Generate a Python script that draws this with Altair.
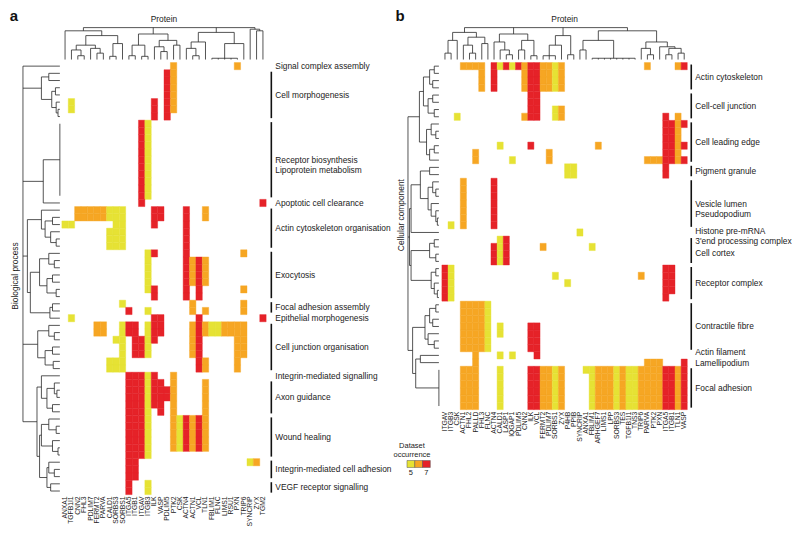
import altair as alt
import pandas as pd

YELLOW, ORANGE, RED = "#e6e234", "#f6a623", "#e52228"
LEVELS = ["5", "6", "7"]
FONT = "Liberation Sans"

# ---------------- panel a : biological process ----------------
proteins_a = ["ANXA1", "TGFB1I1", "CNN2", "FHL3", "PDLIM7", "FERMT2", "PARVA", "CALD1",
              "SORBS3", "SORBS1", "ITGA5", "ITGB1", "ITGAV", "ITGB3", "ILK", "VASP",
              "PDLIM5", "PTK2", "CSK", "ACTN4", "ACTN1", "VCL", "TLN1", "FBLIM1", "FLNC",
              "LIMS1", "RSU1", "PXN", "TRIP6", "SYNCRIP", "ZYX", "TGM2"]

# one string per GO-term row, one character per protein ('.' = absent, 5/6/7 = dataset occurrence)
rows_a = [
    ".................6.........6....",
    "................76..............",
    "................76..............",
    "................76..............",
    "................76..............",
    ".5............7.76..............",
    ".5............7.76..............",
    "..............7.7...............",
    "............75..................",
    "............75..................",
    "............75..................",
    "............75..................",
    "............75..................",
    "............75..................",
    "............75..................",
    "............75..................",
    "............75..................",
    "............75..................",
    "............75..................",
    "............7..................7",
    "..66666555....77...7..6.........",
    "..66666555....77...7..6.........",
    "55......55....7....7............",
    ".......555.........7............",
    ".......555.........7............",
    ".......555.........7............",
    ".............57....7........6...",
    ".............5.....7676.........",
    ".............5.....7676.........",
    ".............5.....7676.........",
    ".............5.....7676.........",
    ".............57....7.7......6...",
    "..............7....7.7..........",
    ".........5..........6.......6...",
    "..........7..5......6.6.....6...",
    ".5............77.....7.........7",
    ".....66..577.577....676556666...",
    ".....66..577.577....676556666...",
    "........55.7757.....67.....66...",
    ".........5.775......67.....66...",
    ".........5.775......67.....66...",
    ".......555...........76....6....",
    ".......555...........76....6....",
    "..........77757..6..............",
    "..........777577.6....6.........",
    "..........77757776....6.........",
    "..........77757776....6.........",
    "..........777577.6....6.........",
    "..........7775.7.6....6.........",
    "..........7775...657676.........",
    "..........7775...657676.........",
    "..........7775...657676.........",
    "..........7775...657676.........",
    "..........7775...657676.........",
    "..........7775..................",
    "..........77.................56.",
    "..........77....................",
    "..........77....................",
    "..........7..5..................",
    "..........7..5..................",
]

terms_a = ["Signal complex assembly", "Cell morphogenesis",
           "Receptor biosynthesis\nLipoprotein metabolism", "Apoptotic cell clearance",
           "Actin cytoskeleton organisation", "Exocytosis", "Focal adhesion assembly",
           "Epithelial morphogenesis", "Cell junction organisation",
           "Integrin-mediated signalling", "Axon guidance", "Wound healing",
           "Integrin-mediated cell adhesion", "VEGF receptor signalling"]
term_rows_a = [1, 7, 11, 1, 6, 7, 2, 1, 7, 1, 5, 6, 3, 2]
term_dy_a = [0, 0, 0, 0, 0, 0, 0, 0, 0, 0, 0, 0, 0, 0]

# dendrograms: [height, child, child, ...]; integers are leaf positions
col_tree_a = [1.0,
              [0.9, 0, [0.75, [0.45, [0.3, 1, [0.12, 2, 3]], [0.35, 4, [0.2, 5, 6]]],
                        [0.5, [0.1, 7, 8], 9]]],
              [0.8, [0.45, [0.12, 10, 11], [0.1, 12, 13]],
                    [0.6, [0.4, 14, [0.25, 15, 16]], [0.45, 17, 18]]],
              [0.85, [0.55, [0.35, 19, [0.12, 20, 21]], 22],
                     [0.5, [0.04, 23, 24, 25, 26, 27], 28]],
              [0.95, 29, [0.9, 30, 31]]]
row_tree_a = [1.0, 0,
              [0.5, [0.3, 1, 2], [0.22, [0.12, 3, 4], [0.1, 5, [0.05, 6, 7]]]],
              [0.45, [0.0, 8, 9, 10, 11, 12, 13, 14, 15, 16, 17, 18], 19],
              [0.88, [0.5, 20, [0.4, [0.2, 21, 22], [0.25, 23, [0.1, 24, 25]]]],
                     [0.8, [0.55, [0.3, 26, [0.15, 27, 28]], [0.35, [0.2, 29, 30], [0.1, 31, 32]]],
                           [0.27, [0.2, 33, 34], 35]]],
              [0.6, [0.3, 36, [0.15, 37, 38]], [0.4, [0.2, 39, 40], [0.18, 41, 42]]],
              [0.62, [0.5, 43, [0.35, [0.15, 44, [0.08, 45, 46]], [0.2, 47, 48]]],
                     [0.55, [0.5, [0.3, 49, [0.1, 50, 51]], [0.2, 52, [0.05, 53, 54]]],
                            [0.35, [0.3, 55, [0.15, 56, 57]], [0.25, 58, 59]]]]]

# ---------------- panel b : cellular component ----------------
proteins_b = ["ITGAV", "ITGB3", "CSK", "ACTN1", "FHL2", "PALLD", "FHL3", "FLNC", "ACTN4",
              "CALD1", "LASP1", "IQGAP1", "PDLIM5", "CNN2", "ILK", "VCL", "FERMT2", "PDLIM7",
              "SORBS1", "ZYX", "P4HB", "PPIB", "SYNCRIP", "ANXA1", "FBLIM1", "ARHGEF7",
              "LIMS1", "LPP", "SORBS3", "TES", "TGFB1I1", "TNS3", "TRIP6", "PARVA", "PTK2",
              "PXN", "ITGA5", "ITGB1", "TLN1", "VASP"]

rows_b = [
    "...6666.757576776656.............6....67",
    "......6.7....6776656....................",
    "......6.7....6776656....................",
    "......6.7....6776656....................",
    "..............77........................",
    "..............77........................",
    "..............77..56....................",
    "..5..........677..56................7.6.",
    "....................................7767",
    "....................................776.",
    "....................................776.",
    ".........5....7..........6..........7767",
    ".....6...........6..................776.",
    ".....6.....5.....6...............6667767",
    "....................55..............7...",
    "....................55..............7...",
    "...6....7...............................",
    "...6....7...............................",
    "...6....7...............................",
    "...6....7...............................",
    "...6....7...............................",
    "...6....7...............................",
    ".5.6....7...............................",
    "......................5.................",
    ".........57.............................",
    "........757.....6.......5...............",
    "........757.............................",
    "........757.............................",
    "75..................................77..",
    "75................5.............6...77..",
    "75..................5...............77..",
    "75..................................77..",
    "75..................................7...",
    "...66665................................",
    "...66665................................",
    "...66665................................",
    "...66665.5....77........................",
    "...66665.5....77........................",
    "...66665......77........................",
    "...66665......77........................",
    ".....6...5.5...7........................",
    ".....6...........................666...7",
    "...666...5....776656...55666565566667767",
    "...666...5....776656....5666565566667767",
    "...666...5....776656....5666565566667767",
    "...666...5....776656....5666565566667767",
    "...666...5....776656....5666565566667767",
    "...666...5....776656....5666565566667767",
]

terms_b = ["Actin cytoskeleton", "Cell-cell junction", "Cell leading edge", "Pigment granule",
           "Vesicle lumen\nPseudopodium", "Histone pre-mRNA\n3'end processing complex",
           "Cell cortex", "Receptor complex", "Contractile fibre", "Actin filament",
           "Lamellipodium", "Focal adhesion"]
term_rows_b = [4, 4, 6, 2, 7, 1, 4, 5, 7, 1, 1, 6]
term_dy_b = [0, 0, 0, 0, 0, -1, 2, 0, 0, -3, 0.5, 0]

col_tree_b = [1.0,
              [0.85, [0.6, [0.2, 0, 1], 2], [0.7, [0.45, 3, [0.2, 4, 5]], [0.5, 6, 7]]],
              [0.8, [0.55, 8, [0.3, 9, [0.15, 10, 11]]], [0.6, [0.3, 12, 13], [0.12, 14, 15]]],
              [0.75, [0.45, [0.12, 16, 17, 18], 19], [0.15, 20, 21]],
              [0.9, [0.6, [0.3, 22, 23], [0.04, 24, 25, 26, 27, 28, 29, 30, 31]],
                    [0.55, [0.35, 32, [0.15, 33, 34]],
                           [0.4, 35, [0.35, [0.15, 36, 37], [0.2, 38, 39]]]]]]
row_tree_b = [1.0,
              [0.63, [0.5, [0.3, [0.15, 0, 1], [0.2, 2, 3]], [0.35, [0.2, 4, 5], [0.15, 6, 7]]],
                     [0.4, [0.25, 8, [0.1, 9, 10]], [0.3, [0.15, 11, 12], 13]]],
              [0.95, [0.9, [0.6, [0.3, 14, 15], [0.35, [0.2, 16, [0.1, 17, 18]], [0.25, 19, [0.1, 20, [0.05, 21, 22]]]]], 23],
                     [0.9, [0.3, [0.15, 24, 25], [0.1, 26, 27]], [0.25, [0.1, 28, 29], [0.15, 30, [0.05, 31, 32]]]]],
              [0.85, [0.45, [0.3, [0.1, 33, 34], [0.2, 35, 36]], [0.35, 37, [0.15, 38, 39]]],
                     [0.75, [0.6, 40, 41], [0.0, 42, 43, 44, 45, 46, 47]]]]

legend_levels = ["5", "6", "7"]
legend_ticks = ["5", "", "7"]


# ---------------- helpers ----------------
def heat_df(rows, names):
    recs = []
    for r, s in enumerate(rows):
        s = s.ljust(len(names), ".")[:len(names)]
        for c, ch in enumerate(s):
            if ch != ".":
                recs.append(dict(x=c, x2=c + 1, y=r, y2=r + 1, v=ch, protein=names[c]))
    return pd.DataFrame(recs)


def tree_df(tree, orient, gap, length):
    segs = []

    def walk(node):
        if isinstance(node, int):
            return node + 0.5, 0.0
        h = node[0]
        kids = [walk(k) for k in node[1:]]
        for p, hh in kids:
            segs.append((p, hh, p, h))
        ps = [p for p, _ in kids]
        segs.append((min(ps), h, max(ps), h))
        return sum(ps) / len(ps), h

    walk(tree)
    recs = []
    for p1, h1, p2, h2 in segs:
        d1, d2 = -(gap + h1 * length), -(gap + h2 * length)
        if orient == "top":
            recs.append(dict(x=p1, x2=p2, y=d1, y2=d2))
        else:
            recs.append(dict(x=d1, x2=d2, y=p1, y2=p2))
    return pd.DataFrame(recs)


def panel(names, rows, terms, term_rows, term_dy, col_tree, row_tree, g, letter,
          side_title, side_y, legend=False):
    ux = lambda px: (px - g["x0"]) / g["cw"]
    uy = lambda py: (py - g["y0"]) / g["rh"]
    xs = alt.Scale(domain=[ux(g["left"]), ux(g["right"])], nice=False, zero=False)
    ys = alt.Scale(domain=[uy(g["top"]), uy(g["bottom"])], nice=False, zero=False, reverse=True)
    X = lambda f: alt.X(f, type="quantitative", scale=xs, axis=None)
    Y = lambda f: alt.Y(f, type="quantitative", scale=ys, axis=None)
    cscale = alt.Scale(domain=LEVELS, range=[YELLOW, ORANGE, RED])
    ncol, nrow = len(names), len(rows)

    heat = alt.Chart(heat_df(rows, names)).mark_rect(strokeWidth=0.4).encode(
        x=X("x"), x2="x2", y=Y("y"), y2="y2",
        color=alt.Color("v:N", scale=cscale, legend=None),
        stroke=alt.Stroke("v:N", scale=cscale, legend=None))

    top = tree_df(col_tree, "top", (g["y0"] - g["cleaf"]) / g["rh"],
                  (g["cleaf"] - g["croot"]) / g["rh"])
    left = tree_df(row_tree, "left", (g["x0"] - g["rleaf"]) / g["cw"],
                   (g["rleaf"] - g["rroot"]) / g["cw"])
    dend = alt.Chart(pd.concat([top, left])).mark_rule(color="#2a2a2a", strokeWidth=0.8).encode(
        x=X("x"), x2="x2", y=Y("y"), y2="y2")

    labs = pd.DataFrame(dict(x=[i + 0.5 for i in range(ncol)], y=[uy(g["clab"])] * ncol, t=names))
    collab = alt.Chart(labs).mark_text(angle=270, align="right", baseline="middle",
                                       fontSize=6.8, font=FONT, color="#222").encode(
        x=X("x"), y=Y("y"), text="t")

    starts, s = [], 0
    for n in term_rows:
        starts.append(s)
        s += n
    tdf = pd.DataFrame(dict(t=terms,
                            y=[st + n / 2 + dy / g["rh"] for st, n, dy in zip(starts, term_rows, term_dy)],
                            x=[ux(g["tlab"])] * len(terms)))
    termlab = alt.Chart(tdf).mark_text(align="left", baseline="middle", fontSize=8.4,
                                       font=FONT, lineBreak="\n", lineHeight=10,
                                       color="#222").encode(x=X("x"), y=Y("y"), text="t")
    inset = 2 / g["rh"]
    bdf = pd.DataFrame([dict(x=ux(g["brk"]), y=st + inset, y2=st + n - inset)
                        for st, n in zip(starts, term_rows) if n > 1])
    brk = alt.Chart(bdf).mark_rule(color="#111", strokeWidth=1.6).encode(
        x=X("x"), y=Y("y"), y2="y2")

    ttl = pd.DataFrame(dict(x=[ncol / 2], y=[uy(18)], t=["Protein"]))
    prot = alt.Chart(ttl).mark_text(fontSize=8.4, font=FONT, baseline="middle", color="#222").encode(
        x=X("x"), y=Y("y"), text="t")
    sdf = pd.DataFrame(dict(x=[ux(g["stitle"])], y=[uy(side_y)], t=[side_title]))
    side = alt.Chart(sdf).mark_text(angle=270, fontSize=8.4, font=FONT, baseline="middle",
                                    color="#222").encode(x=X("x"), y=Y("y"), text="t")
    ldf = pd.DataFrame(dict(x=[ux(g["letx"])], y=[uy(15)], t=[letter]))
    let = alt.Chart(ldf).mark_text(fontSize=15, fontWeight="bold", font=FONT,
                                   baseline="middle", color="#111").encode(
        x=X("x"), y=Y("y"), text="t")

    layers = [heat, dend, collab, termlab, brk, prot, side, let]

    if legend:
        sq_l = [408 + 7.8 * i for i in range(3)]
        leg = pd.DataFrame(dict(x=[ux(p) for p in sq_l], x2=[ux(p + 7.8) for p in sq_l],
                                y=[uy(461)] * 3, y2=[uy(468)] * 3, v=legend_levels,
                                tx=[ux(p + 3.9) for p in sq_l], ty=[uy(474)] * 3, tk=legend_ticks))
        legr = alt.Chart(leg).mark_rect(stroke="#555", strokeWidth=0.5).encode(
            x=X("x"), x2="x2", y=Y("y"), y2="y2",
            color=alt.Color("v:N", scale=cscale, legend=None))
        legt = alt.Chart(leg).mark_text(fontSize=7.5, font=FONT, baseline="middle",
                                        color="#222").encode(x=X("tx"), y=Y("ty"), text="tk")
        head = pd.DataFrame(dict(x=[ux(413)] * 2, y=[uy(446), uy(455)],
                                 t=["Dataset", "occurrence"]))
        legh = alt.Chart(head).mark_text(fontSize=7.5, font=FONT, baseline="middle",
                                         color="#222").encode(x=X("x"), y=Y("y"), text="t")
        layers += [legr, legt, legh]

    return alt.layer(*layers).properties(width=g["right"] - g["left"],
                                         height=g["bottom"] - g["top"])


GA = dict(left=8, right=398, top=8, bottom=530, x0=62, cw=6.4, y0=62, rh=7.22,
          cleaf=59, croot=27, rleaf=60, rroot=23, clab=497, tlab=276, brk=272,
          stitle=15, letx=14)
GB = dict(left=398, right=792, top=8, bottom=530, x0=443, cw=6.15, y0=62, rh=7.25,
          cleaf=59, croot=27, rleaf=440, rroot=409, clab=412, tlab=697, brk=693,
          stitle=402, letx=401)

pa = panel(proteins_a, rows_a, terms_a, term_rows_a, term_dy_a, col_tree_a, row_tree_a, GA,
           "a", "Biological process", 276)
pb = panel(proteins_b, rows_b, terms_b, term_rows_b, term_dy_b, col_tree_b, row_tree_b, GB,
           "b", "Cellular component", 215, legend=True)

chart = alt.hconcat(pa, pb, spacing=0, bounds="flush").properties(padding=0).configure_view(
    stroke=None)

chart.save("out.html", embed_options={"renderer": "svg", "actions": False})
